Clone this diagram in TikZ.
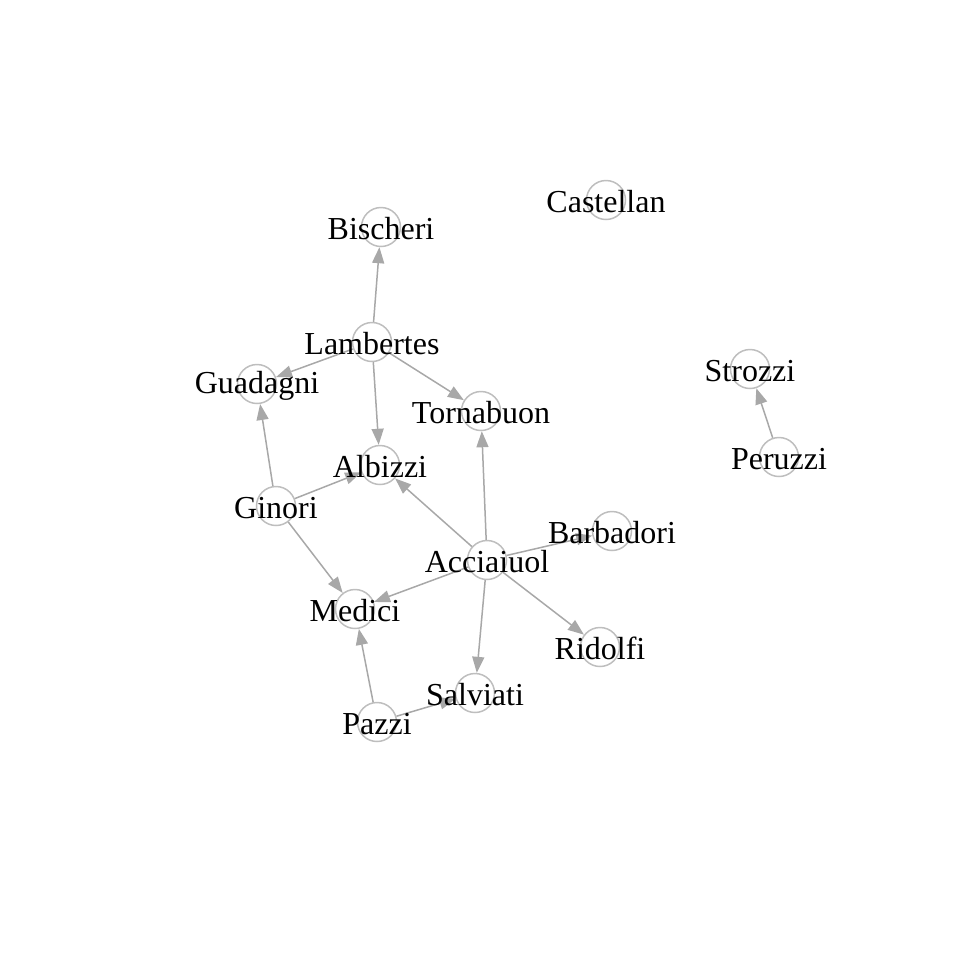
\documentclass[tikz,border=0pt]{standalone}
\usepackage{fontspec}
\setmainfont{Liberation Serif}
\usetikzlibrary{arrows.meta}
\definecolor{vcol}{RGB}{190,190,190}
\definecolor{ecol}{RGB}{168,168,168}
\begin{document}
\begin{tikzpicture}[x=0.5pt,y=-0.5pt,
    vert/.style={circle,draw=vcol,line width=0.75pt,minimum size=19.5pt,inner sep=0pt},
    lab/.style={font=\fontsize{16}{19}\selectfont,inner sep=0pt,yshift=-0.8pt},
    edge/.style={draw=ecol,line width=0.75pt,-{Triangle[length=8pt,width=6pt]}}]
        \useasboundingbox (0,0) rectangle (960,960);
        % vertices
        \node[vert] (cas) at (606,200) {};
        \node[vert] (bis) at (381,227) {};
        \node[vert] (lam) at (372,342) {};
        \node[vert] (gua) at (257,384) {};
        \node[vert] (tor) at (481,411) {};
        \node[vert] (alb) at (380,465) {};
        \node[vert] (gin) at (276,506) {};
        \node[vert] (acc) at (487,560) {};
        \node[vert] (bar) at (612,531) {};
        \node[vert] (med) at (355,609) {};
        \node[vert] (rid) at (600,647) {};
        \node[vert] (sal) at (475,693) {};
        \node[vert] (paz) at (377,722) {};
        \node[vert] (str) at (750,369) {};
        \node[vert] (per) at (779,457) {};
        % edges
        \draw[edge] (lam) -- (bis);
        \draw[edge] (lam) -- (gua);
        \draw[edge] (lam) -- (tor);
        \draw[edge] (lam) -- (alb);
        \draw[edge] (gin) -- (gua);
        \draw[edge] (gin) -- (alb);
        \draw[edge] (gin) -- (med);
        \draw[edge] (acc) -- (alb);
        \draw[edge] (acc) -- (tor);
        \draw[edge] (acc) -- (bar);
        \draw[edge] (acc) -- (med);
        \draw[edge] (acc) -- (rid);
        \draw[edge] (acc) -- (sal);
        \draw[edge] (paz) -- (med);
        \draw[edge] (paz) -- (sal);
        \draw[edge] (per) -- (str);
        % labels
        \node[lab] (cas-l) at (cas) {Castellan};
        \node[lab] (bis-l) at (bis) {Bischeri};
        \node[lab] (lam-l) at (lam) {Lambertes};
        \node[lab] (gua-l) at (gua) {Guadagni};
        \node[lab] (tor-l) at (tor) {Tornabuon};
        \node[lab] (alb-l) at (alb) {Albizzi};
        \node[lab] (gin-l) at (gin) {Ginori};
        \node[lab] (acc-l) at (acc) {Acciaiuol};
        \node[lab] (bar-l) at (bar) {Barbadori};
        \node[lab] (med-l) at (med) {Medici};
        \node[lab] (rid-l) at (rid) {Ridolfi};
        \node[lab] (sal-l) at (sal) {Salviati};
        \node[lab] (paz-l) at (paz) {Pazzi};
        \node[lab] (str-l) at (str) {Strozzi};
        \node[lab] (per-l) at (per) {Peruzzi};
\end{tikzpicture}
\end{document}
